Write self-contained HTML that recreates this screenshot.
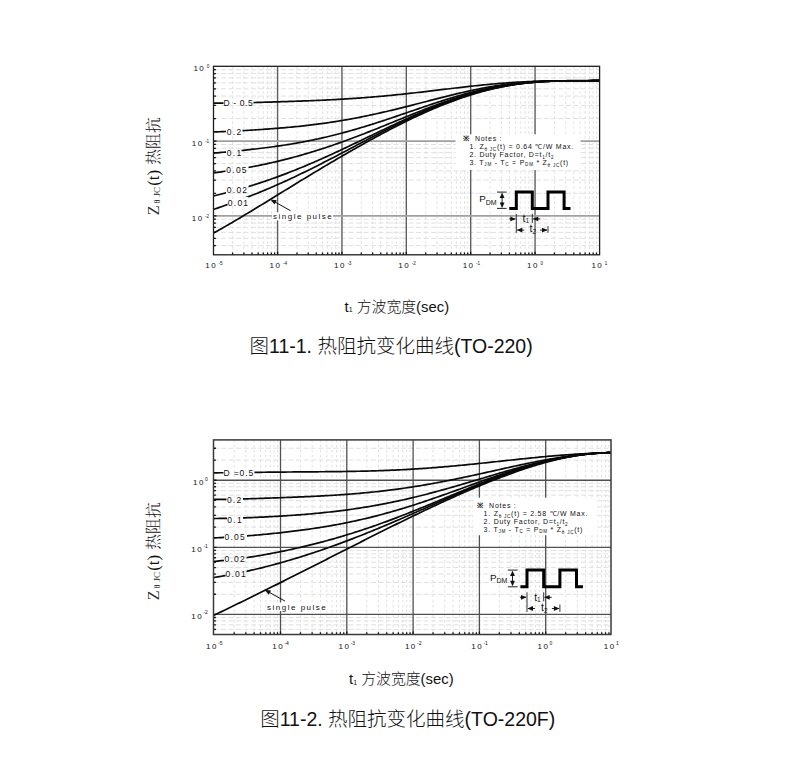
<!DOCTYPE html><html><head><meta charset="utf-8"><style>html,body{margin:0;padding:0;background:#fff;}svg{display:block;}</style></head><body>
<svg width="812" height="779" viewBox="0 0 812 779">
<rect width="812" height="779" fill="#fff"/>
<g stroke="#e0e0e0" stroke-width="1" stroke-dasharray="2.5 2.5" fill="none"><line x1="232.58" y1="66.3" x2="232.58" y2="254.8"/><line x1="243.91" y1="66.3" x2="243.91" y2="254.8"/><line x1="251.95" y1="66.3" x2="251.95" y2="254.8"/><line x1="258.19" y1="66.3" x2="258.19" y2="254.8"/><line x1="263.29" y1="66.3" x2="263.29" y2="254.8"/><line x1="267.6" y1="66.3" x2="267.6" y2="254.8"/><line x1="271.33" y1="66.3" x2="271.33" y2="254.8"/><line x1="274.62" y1="66.3" x2="274.62" y2="254.8"/><line x1="296.95" y1="66.3" x2="296.95" y2="254.8"/><line x1="308.28" y1="66.3" x2="308.28" y2="254.8"/><line x1="316.32" y1="66.3" x2="316.32" y2="254.8"/><line x1="322.56" y1="66.3" x2="322.56" y2="254.8"/><line x1="327.66" y1="66.3" x2="327.66" y2="254.8"/><line x1="331.97" y1="66.3" x2="331.97" y2="254.8"/><line x1="335.7" y1="66.3" x2="335.7" y2="254.8"/><line x1="338.99" y1="66.3" x2="338.99" y2="254.8"/><line x1="361.32" y1="66.3" x2="361.32" y2="254.8"/><line x1="372.65" y1="66.3" x2="372.65" y2="254.8"/><line x1="380.69" y1="66.3" x2="380.69" y2="254.8"/><line x1="386.93" y1="66.3" x2="386.93" y2="254.8"/><line x1="392.03" y1="66.3" x2="392.03" y2="254.8"/><line x1="396.34" y1="66.3" x2="396.34" y2="254.8"/><line x1="400.07" y1="66.3" x2="400.07" y2="254.8"/><line x1="403.36" y1="66.3" x2="403.36" y2="254.8"/><line x1="425.69" y1="66.3" x2="425.69" y2="254.8"/><line x1="437.02" y1="66.3" x2="437.02" y2="254.8"/><line x1="445.06" y1="66.3" x2="445.06" y2="254.8"/><line x1="451.3" y1="66.3" x2="451.3" y2="254.8"/><line x1="456.4" y1="66.3" x2="456.4" y2="254.8"/><line x1="460.71" y1="66.3" x2="460.71" y2="254.8"/><line x1="464.44" y1="66.3" x2="464.44" y2="254.8"/><line x1="467.73" y1="66.3" x2="467.73" y2="254.8"/><line x1="490.06" y1="66.3" x2="490.06" y2="254.8"/><line x1="501.39" y1="66.3" x2="501.39" y2="254.8"/><line x1="509.43" y1="66.3" x2="509.43" y2="254.8"/><line x1="515.67" y1="66.3" x2="515.67" y2="254.8"/><line x1="520.77" y1="66.3" x2="520.77" y2="254.8"/><line x1="525.08" y1="66.3" x2="525.08" y2="254.8"/><line x1="528.81" y1="66.3" x2="528.81" y2="254.8"/><line x1="532.1" y1="66.3" x2="532.1" y2="254.8"/><line x1="554.43" y1="66.3" x2="554.43" y2="254.8"/><line x1="565.76" y1="66.3" x2="565.76" y2="254.8"/><line x1="573.8" y1="66.3" x2="573.8" y2="254.8"/><line x1="580.04" y1="66.3" x2="580.04" y2="254.8"/><line x1="585.14" y1="66.3" x2="585.14" y2="254.8"/><line x1="589.45" y1="66.3" x2="589.45" y2="254.8"/><line x1="593.18" y1="66.3" x2="593.18" y2="254.8"/><line x1="596.47" y1="66.3" x2="596.47" y2="254.8"/></g>
<g stroke="#e0e0e0" stroke-width="1" stroke-dasharray="5 2.5" fill="none"><line x1="213.5" y1="245.55" x2="599.6" y2="245.55"/><line x1="213.5" y1="238.3" x2="599.6" y2="238.3"/><line x1="213.5" y1="232.38" x2="599.6" y2="232.38"/><line x1="213.5" y1="227.38" x2="599.6" y2="227.38"/><line x1="213.5" y1="223.04" x2="599.6" y2="223.04"/><line x1="213.5" y1="219.22" x2="599.6" y2="219.22"/><line x1="213.5" y1="193.3" x2="599.6" y2="193.3"/><line x1="213.5" y1="180.14" x2="599.6" y2="180.14"/><line x1="213.5" y1="170.8" x2="599.6" y2="170.8"/><line x1="213.5" y1="163.55" x2="599.6" y2="163.55"/><line x1="213.5" y1="157.63" x2="599.6" y2="157.63"/><line x1="213.5" y1="152.63" x2="599.6" y2="152.63"/><line x1="213.5" y1="148.29" x2="599.6" y2="148.29"/><line x1="213.5" y1="144.47" x2="599.6" y2="144.47"/><line x1="213.5" y1="118.55" x2="599.6" y2="118.55"/><line x1="213.5" y1="105.39" x2="599.6" y2="105.39"/><line x1="213.5" y1="96.05" x2="599.6" y2="96.05"/><line x1="213.5" y1="88.8" x2="599.6" y2="88.8"/><line x1="213.5" y1="82.88" x2="599.6" y2="82.88"/><line x1="213.5" y1="77.88" x2="599.6" y2="77.88"/><line x1="213.5" y1="73.54" x2="599.6" y2="73.54"/><line x1="213.5" y1="69.72" x2="599.6" y2="69.72"/></g>
<g stroke="#5e5e5e" stroke-width="1.4"><line x1="277.57" y1="66.3" x2="277.57" y2="254.8"/><line x1="341.94" y1="66.3" x2="341.94" y2="254.8"/><line x1="406.31" y1="66.3" x2="406.31" y2="254.8"/><line x1="470.68" y1="66.3" x2="470.68" y2="254.8"/><line x1="535.05" y1="66.3" x2="535.05" y2="254.8"/></g>
<g stroke="#a0a0a0" stroke-width="1.8"><line x1="213.5" y1="215.8" x2="599.6" y2="215.8"/><line x1="213.5" y1="141.05" x2="599.6" y2="141.05"/></g>
<rect x="455.5" y="134.3" width="125" height="35.7" fill="#fff"/>
<rect x="272" y="212.3" width="61" height="8" fill="#fff"/>
<path d="M232.58 254.8v-2.2M243.91 254.8v-2.2M251.95 254.8v-2.2M258.19 254.8v-2.2M263.29 254.8v-2.2M267.6 254.8v-2.2M271.33 254.8v-2.2M274.62 254.8v-2.2M277.57 254.8v-3M296.95 254.8v-2.2M308.28 254.8v-2.2M316.32 254.8v-2.2M322.56 254.8v-2.2M327.66 254.8v-2.2M331.97 254.8v-2.2M335.7 254.8v-2.2M338.99 254.8v-2.2M341.94 254.8v-3M361.32 254.8v-2.2M372.65 254.8v-2.2M380.69 254.8v-2.2M386.93 254.8v-2.2M392.03 254.8v-2.2M396.34 254.8v-2.2M400.07 254.8v-2.2M403.36 254.8v-2.2M406.31 254.8v-3M425.69 254.8v-2.2M437.02 254.8v-2.2M445.06 254.8v-2.2M451.3 254.8v-2.2M456.4 254.8v-2.2M460.71 254.8v-2.2M464.44 254.8v-2.2M467.73 254.8v-2.2M470.68 254.8v-3M490.06 254.8v-2.2M501.39 254.8v-2.2M509.43 254.8v-2.2M515.67 254.8v-2.2M520.77 254.8v-2.2M525.08 254.8v-2.2M528.81 254.8v-2.2M532.1 254.8v-2.2M535.05 254.8v-3M554.43 254.8v-2.2M565.76 254.8v-2.2M573.8 254.8v-2.2M580.04 254.8v-2.2M585.14 254.8v-2.2M589.45 254.8v-2.2M593.18 254.8v-2.2M596.47 254.8v-2.2M213.5 245.55h2.4M213.5 238.3h2.4M213.5 232.38h2.4M213.5 227.38h2.4M213.5 223.04h2.4M213.5 219.22h2.4M213.5 215.8h3M213.5 193.3h2.4M213.5 180.14h2.4M213.5 170.8h2.4M213.5 163.55h2.4M213.5 157.63h2.4M213.5 152.63h2.4M213.5 148.29h2.4M213.5 144.47h2.4M213.5 141.05h3M213.5 118.55h2.4M213.5 105.39h2.4M213.5 96.05h2.4M213.5 88.8h2.4M213.5 82.88h2.4M213.5 77.88h2.4M213.5 73.54h2.4M213.5 69.72h2.4" stroke="#111" stroke-width="1.3" fill="none"/>
<mask id="m1" maskUnits="userSpaceOnUse" x="0" y="0" width="812" height="779"><rect x="0" y="0" width="812" height="779" fill="#fff"/>
<rect x="223.5" y="98" width="30" height="10" fill="#000"/>
<rect x="226" y="126" width="16.5" height="11" fill="#000"/>
<rect x="226" y="146" width="15.5" height="11" fill="#000"/>
<rect x="225.5" y="164" width="23" height="12" fill="#000"/>
<rect x="226" y="184" width="22.5" height="11" fill="#000"/>
<rect x="227.5" y="197" width="21" height="10.5" fill="#000"/>
</mask>
<clipPath id="m1c"><rect x="213.5" y="66.3" width="386.1" height="188.5"/></clipPath>
<g clip-path="url(#m1c)"><g mask="url(#m1)" stroke="#0a0a0a" stroke-width="1.7" fill="none" stroke-linejoin="round">
<path d="M213.4 103.15 L215.4 103.16 L217.4 103.16 L219.4 103.15 L221.4 103.14 L223.4 103.13 L225.4 103.11 L227.4 103.09 L229.4 103.06 L231.4 103.03 L233.4 103 L235.4 102.96 L237.4 102.92 L239.4 102.88 L241.4 102.84 L243.4 102.79 L245.4 102.75 L247.4 102.7 L249.4 102.65 L251.4 102.6 L253.4 102.54 L255.4 102.49 L257.4 102.44 L259.4 102.38 L261.4 102.32 L263.4 102.27 L265.4 102.21 L267.4 102.15 L269.4 102.09 L271.4 102.03 L273.4 101.97 L275.4 101.91 L277.4 101.85 L279.4 101.79 L281.4 101.72 L283.4 101.66 L285.4 101.6 L287.4 101.53 L289.4 101.46 L291.4 101.4 L293.4 101.33 L295.4 101.26 L297.4 101.19 L299.4 101.12 L301.4 101.04 L303.4 100.97 L305.4 100.89 L307.4 100.82 L309.4 100.74 L311.4 100.66 L313.4 100.58 L315.4 100.49 L317.4 100.41 L319.4 100.32 L321.4 100.23 L323.4 100.14 L325.4 100.04 L327.4 99.95 L329.4 99.85 L331.4 99.75 L333.4 99.64 L335.4 99.53 L337.4 99.43 L339.4 99.31 L341.4 99.2 L343.4 99.08 L345.4 98.96 L347.4 98.84 L349.4 98.71 L351.4 98.58 L353.4 98.45 L355.4 98.31 L357.4 98.17 L359.4 98.03 L361.4 97.88 L363.4 97.73 L365.4 97.58 L367.4 97.42 L369.4 97.26 L371.4 97.1 L373.4 96.94 L375.4 96.77 L377.4 96.59 L379.4 96.42 L381.4 96.24 L383.4 96.06 L385.4 95.87 L387.4 95.68 L389.4 95.49 L391.4 95.3 L393.4 95.1 L395.4 94.9 L397.4 94.69 L399.4 94.49 L401.4 94.28 L403.4 94.07 L405.4 93.85 L407.4 93.63 L409.4 93.42 L411.4 93.19 L413.4 92.97 L415.4 92.74 L417.4 92.52 L419.4 92.29 L421.4 92.06 L423.4 91.82 L425.4 91.59 L427.4 91.35 L429.4 91.12 L431.4 90.88 L433.4 90.64 L435.4 90.4 L437.4 90.17 L439.4 89.93 L441.4 89.69 L443.4 89.45 L445.4 89.21 L447.4 88.97 L449.4 88.73 L451.4 88.49 L453.4 88.26 L455.4 88.02 L457.4 87.79 L459.4 87.55 L461.4 87.32 L463.4 87.09 L465.4 86.86 L467.4 86.64 L469.4 86.42 L471.4 86.2 L473.4 85.98 L475.4 85.76 L477.4 85.55 L479.4 85.34 L481.4 85.14 L483.4 84.94 L485.4 84.74 L487.4 84.55 L489.4 84.36 L491.4 84.17 L493.4 83.99 L495.4 83.81 L497.4 83.64 L499.4 83.47 L501.4 83.31 L503.4 83.15 L505.4 83 L507.4 82.86 L509.4 82.71 L511.4 82.58 L513.4 82.45 L515.4 82.32 L517.4 82.2 L519.4 82.09 L521.4 81.98 L523.4 81.88 L525.4 81.78 L527.4 81.69 L529.4 81.6 L531.4 81.52 L533.4 81.45 L535.4 81.38 L537.4 81.31 L539.4 81.25 L541.4 81.2 L543.4 81.15 L545.4 81.11 L547.4 81.07 L549.4 81.03 L551.4 81 L553.4 80.97 L555.4 80.95 L557.4 80.93 L559.4 80.91 L561.4 80.9 L563.4 80.88 L565.4 80.87 L567.4 80.87 L569.4 80.86 L571.4 80.85 L573.4 80.84 L575.4 80.84 L577.4 80.83 L579.4 80.82 L581.4 80.81 L583.4 80.79 L585.4 80.78 L587.4 80.75 L589.4 80.73 L591.4 80.69 L593.4 80.66 L595.4 80.61 L597.4 80.55 L599.4 80.49 L599.5 80.49"/>
<path d="M213.4 131.99 L215.4 131.92 L217.4 131.84 L219.4 131.76 L221.4 131.68 L223.4 131.6 L225.4 131.51 L227.4 131.42 L229.4 131.32 L231.4 131.23 L233.4 131.13 L235.4 131.03 L237.4 130.92 L239.4 130.82 L241.4 130.71 L243.4 130.6 L245.4 130.48 L247.4 130.37 L249.4 130.25 L251.4 130.13 L253.4 130 L255.4 129.88 L257.4 129.75 L259.4 129.62 L261.4 129.48 L263.4 129.35 L265.4 129.21 L267.4 129.07 L269.4 128.92 L271.4 128.77 L273.4 128.62 L275.4 128.46 L277.4 128.3 L279.4 128.14 L281.4 127.97 L283.4 127.8 L285.4 127.63 L287.4 127.45 L289.4 127.26 L291.4 127.08 L293.4 126.88 L295.4 126.69 L297.4 126.49 L299.4 126.28 L301.4 126.07 L303.4 125.85 L305.4 125.63 L307.4 125.4 L309.4 125.17 L311.4 124.93 L313.4 124.68 L315.4 124.43 L317.4 124.18 L319.4 123.91 L321.4 123.65 L323.4 123.37 L325.4 123.09 L327.4 122.8 L329.4 122.51 L331.4 122.21 L333.4 121.9 L335.4 121.59 L337.4 121.27 L339.4 120.95 L341.4 120.61 L343.4 120.28 L345.4 119.93 L347.4 119.58 L349.4 119.22 L351.4 118.86 L353.4 118.48 L355.4 118.11 L357.4 117.72 L359.4 117.33 L361.4 116.94 L363.4 116.53 L365.4 116.12 L367.4 115.71 L369.4 115.29 L371.4 114.86 L373.4 114.43 L375.4 113.99 L377.4 113.54 L379.4 113.1 L381.4 112.64 L383.4 112.18 L385.4 111.72 L387.4 111.25 L389.4 110.77 L391.4 110.3 L393.4 109.81 L395.4 109.33 L397.4 108.84 L399.4 108.34 L401.4 107.85 L403.4 107.35 L405.4 106.84 L407.4 106.34 L409.4 105.83 L411.4 105.32 L413.4 104.81 L415.4 104.3 L417.4 103.78 L419.4 103.26 L421.4 102.75 L423.4 102.23 L425.4 101.71 L427.4 101.2 L429.4 100.68 L431.4 100.16 L433.4 99.65 L435.4 99.14 L437.4 98.62 L439.4 98.11 L441.4 97.61 L443.4 97.1 L445.4 96.6 L447.4 96.1 L449.4 95.61 L451.4 95.11 L453.4 94.63 L455.4 94.15 L457.4 93.67 L459.4 93.2 L461.4 92.73 L463.4 92.27 L465.4 91.81 L467.4 91.36 L469.4 90.92 L471.4 90.49 L473.4 90.06 L475.4 89.64 L477.4 89.23 L479.4 88.82 L481.4 88.43 L483.4 88.04 L485.4 87.66 L487.4 87.3 L489.4 86.94 L491.4 86.59 L493.4 86.25 L495.4 85.92 L497.4 85.6 L499.4 85.29 L501.4 84.99 L503.4 84.7 L505.4 84.42 L507.4 84.16 L509.4 83.9 L511.4 83.66 L513.4 83.42 L515.4 83.2 L517.4 82.99 L519.4 82.79 L521.4 82.6 L523.4 82.42 L525.4 82.25 L527.4 82.1 L529.4 81.95 L531.4 81.82 L533.4 81.7 L535.4 81.58 L537.4 81.48 L539.4 81.39 L541.4 81.3 L543.4 81.23 L545.4 81.16 L547.4 81.1 L549.4 81.05 L551.4 81.01 L553.4 80.98 L555.4 80.95 L557.4 80.93 L559.4 80.91 L561.4 80.9 L563.4 80.89 L565.4 80.89 L567.4 80.89 L569.4 80.89 L571.4 80.89 L573.4 80.9 L575.4 80.9 L577.4 80.9 L579.4 80.9 L581.4 80.89 L583.4 80.88 L585.4 80.87 L587.4 80.84 L589.4 80.81 L591.4 80.77 L593.4 80.71 L595.4 80.65 L597.4 80.57 L599.4 80.47 L599.5 80.46"/>
<path d="M213.4 153.15 L215.4 152.97 L217.4 152.78 L219.4 152.6 L221.4 152.41 L223.4 152.23 L225.4 152.04 L227.4 151.85 L229.4 151.66 L231.4 151.47 L233.4 151.28 L235.4 151.08 L237.4 150.89 L239.4 150.69 L241.4 150.48 L243.4 150.28 L245.4 150.07 L247.4 149.86 L249.4 149.64 L251.4 149.43 L253.4 149.2 L255.4 148.98 L257.4 148.75 L259.4 148.51 L261.4 148.27 L263.4 148.03 L265.4 147.78 L267.4 147.52 L269.4 147.26 L271.4 147 L273.4 146.72 L275.4 146.45 L277.4 146.16 L279.4 145.87 L281.4 145.58 L283.4 145.27 L285.4 144.97 L287.4 144.65 L289.4 144.33 L291.4 144 L293.4 143.66 L295.4 143.31 L297.4 142.96 L299.4 142.6 L301.4 142.23 L303.4 141.86 L305.4 141.48 L307.4 141.08 L309.4 140.69 L311.4 140.28 L313.4 139.87 L315.4 139.44 L317.4 139.01 L319.4 138.57 L321.4 138.13 L323.4 137.67 L325.4 137.21 L327.4 136.74 L329.4 136.26 L331.4 135.77 L333.4 135.28 L335.4 134.77 L337.4 134.26 L339.4 133.74 L341.4 133.22 L343.4 132.68 L345.4 132.14 L347.4 131.59 L349.4 131.04 L351.4 130.47 L353.4 129.9 L355.4 129.32 L357.4 128.74 L359.4 128.15 L361.4 127.55 L363.4 126.95 L365.4 126.34 L367.4 125.72 L369.4 125.1 L371.4 124.47 L373.4 123.84 L375.4 123.2 L377.4 122.56 L379.4 121.91 L381.4 121.26 L383.4 120.6 L385.4 119.94 L387.4 119.28 L389.4 118.61 L391.4 117.94 L393.4 117.27 L395.4 116.59 L397.4 115.91 L399.4 115.23 L401.4 114.55 L403.4 113.87 L405.4 113.19 L407.4 112.5 L409.4 111.82 L411.4 111.13 L413.4 110.45 L415.4 109.76 L417.4 109.08 L419.4 108.4 L421.4 107.72 L423.4 107.04 L425.4 106.36 L427.4 105.69 L429.4 105.02 L431.4 104.35 L433.4 103.68 L435.4 103.02 L437.4 102.37 L439.4 101.72 L441.4 101.07 L443.4 100.43 L445.4 99.8 L447.4 99.17 L449.4 98.55 L451.4 97.93 L453.4 97.33 L455.4 96.73 L457.4 96.13 L459.4 95.55 L461.4 94.98 L463.4 94.41 L465.4 93.85 L467.4 93.3 L469.4 92.76 L471.4 92.24 L473.4 91.72 L475.4 91.21 L477.4 90.71 L479.4 90.23 L481.4 89.75 L483.4 89.29 L485.4 88.84 L487.4 88.4 L489.4 87.97 L491.4 87.55 L493.4 87.15 L495.4 86.76 L497.4 86.38 L499.4 86.02 L501.4 85.67 L503.4 85.33 L505.4 85.01 L507.4 84.7 L509.4 84.4 L511.4 84.11 L513.4 83.84 L515.4 83.58 L517.4 83.34 L519.4 83.11 L521.4 82.89 L523.4 82.68 L525.4 82.49 L527.4 82.31 L529.4 82.14 L531.4 81.99 L533.4 81.84 L535.4 81.71 L537.4 81.59 L539.4 81.48 L541.4 81.39 L543.4 81.3 L545.4 81.22 L547.4 81.16 L549.4 81.1 L551.4 81.05 L553.4 81.01 L555.4 80.97 L557.4 80.95 L559.4 80.93 L561.4 80.91 L563.4 80.9 L565.4 80.9 L567.4 80.89 L569.4 80.89 L571.4 80.9 L573.4 80.9 L575.4 80.9 L577.4 80.9 L579.4 80.9 L581.4 80.89 L583.4 80.88 L585.4 80.87 L587.4 80.84 L589.4 80.81 L591.4 80.77 L593.4 80.71 L595.4 80.65 L597.4 80.57 L599.4 80.47 L599.5 80.47"/>
<path d="M213.4 172.88 L215.4 172.62 L217.4 172.36 L219.4 172.09 L221.4 171.81 L223.4 171.53 L225.4 171.24 L227.4 170.94 L229.4 170.64 L231.4 170.33 L233.4 170.02 L235.4 169.69 L237.4 169.37 L239.4 169.03 L241.4 168.69 L243.4 168.34 L245.4 167.99 L247.4 167.63 L249.4 167.26 L251.4 166.88 L253.4 166.5 L255.4 166.11 L257.4 165.71 L259.4 165.31 L261.4 164.9 L263.4 164.48 L265.4 164.05 L267.4 163.62 L269.4 163.18 L271.4 162.73 L273.4 162.28 L275.4 161.82 L277.4 161.34 L279.4 160.87 L281.4 160.38 L283.4 159.89 L285.4 159.39 L287.4 158.88 L289.4 158.36 L291.4 157.83 L293.4 157.3 L295.4 156.76 L297.4 156.21 L299.4 155.65 L301.4 155.09 L303.4 154.52 L305.4 153.94 L307.4 153.35 L309.4 152.75 L311.4 152.15 L313.4 151.54 L315.4 150.92 L317.4 150.29 L319.4 149.65 L321.4 149.01 L323.4 148.36 L325.4 147.7 L327.4 147.04 L329.4 146.37 L331.4 145.69 L333.4 145 L335.4 144.31 L337.4 143.61 L339.4 142.9 L341.4 142.19 L343.4 141.47 L345.4 140.74 L347.4 140.01 L349.4 139.27 L351.4 138.53 L353.4 137.78 L355.4 137.03 L357.4 136.27 L359.4 135.5 L361.4 134.73 L363.4 133.96 L365.4 133.18 L367.4 132.4 L369.4 131.61 L371.4 130.82 L373.4 130.03 L375.4 129.23 L377.4 128.43 L379.4 127.63 L381.4 126.82 L383.4 126.01 L385.4 125.21 L387.4 124.39 L389.4 123.58 L391.4 122.77 L393.4 121.96 L395.4 121.14 L397.4 120.33 L399.4 119.51 L401.4 118.7 L403.4 117.89 L405.4 117.08 L407.4 116.27 L409.4 115.46 L411.4 114.65 L413.4 113.85 L415.4 113.05 L417.4 112.25 L419.4 111.46 L421.4 110.67 L423.4 109.89 L425.4 109.11 L427.4 108.33 L429.4 107.56 L431.4 106.8 L433.4 106.04 L435.4 105.29 L437.4 104.54 L439.4 103.8 L441.4 103.07 L443.4 102.35 L445.4 101.63 L447.4 100.93 L449.4 100.23 L451.4 99.54 L453.4 98.86 L455.4 98.19 L457.4 97.53 L459.4 96.88 L461.4 96.24 L463.4 95.61 L465.4 95 L467.4 94.39 L469.4 93.8 L471.4 93.22 L473.4 92.65 L475.4 92.09 L477.4 91.54 L479.4 91.01 L481.4 90.5 L483.4 89.99 L485.4 89.5 L487.4 89.02 L489.4 88.56 L491.4 88.11 L493.4 87.68 L495.4 87.25 L497.4 86.85 L499.4 86.46 L501.4 86.08 L503.4 85.72 L505.4 85.37 L507.4 85.04 L509.4 84.72 L511.4 84.41 L513.4 84.12 L515.4 83.85 L517.4 83.59 L519.4 83.34 L521.4 83.11 L523.4 82.89 L525.4 82.69 L527.4 82.5 L529.4 82.32 L531.4 82.16 L533.4 82.01 L535.4 81.87 L537.4 81.75 L539.4 81.63 L541.4 81.53 L543.4 81.44 L545.4 81.36 L547.4 81.29 L549.4 81.23 L551.4 81.17 L553.4 81.13 L555.4 81.09 L557.4 81.07 L559.4 81.04 L561.4 81.03 L563.4 81.01 L565.4 81 L567.4 81 L569.4 81 L571.4 80.99 L573.4 80.99 L575.4 80.99 L577.4 80.98 L579.4 80.97 L581.4 80.96 L583.4 80.94 L585.4 80.92 L587.4 80.89 L589.4 80.84 L591.4 80.79 L593.4 80.72 L595.4 80.64 L597.4 80.55 L599.4 80.43 L599.5 80.43"/>
<path d="M213.4 195.99 L215.4 195.51 L217.4 195.02 L219.4 194.53 L221.4 194.03 L223.4 193.52 L225.4 193 L227.4 192.48 L229.4 191.95 L231.4 191.42 L233.4 190.87 L235.4 190.32 L237.4 189.76 L239.4 189.19 L241.4 188.62 L243.4 188.03 L245.4 187.44 L247.4 186.84 L249.4 186.24 L251.4 185.62 L253.4 185 L255.4 184.36 L257.4 183.72 L259.4 183.07 L261.4 182.42 L263.4 181.75 L265.4 181.08 L267.4 180.39 L269.4 179.7 L271.4 179 L273.4 178.29 L275.4 177.58 L277.4 176.85 L279.4 176.12 L281.4 175.37 L283.4 174.62 L285.4 173.86 L287.4 173.1 L289.4 172.32 L291.4 171.54 L293.4 170.75 L295.4 169.95 L297.4 169.14 L299.4 168.33 L301.4 167.51 L303.4 166.68 L305.4 165.85 L307.4 165 L309.4 164.15 L311.4 163.3 L313.4 162.43 L315.4 161.56 L317.4 160.69 L319.4 159.81 L321.4 158.92 L323.4 158.03 L325.4 157.13 L327.4 156.22 L329.4 155.31 L331.4 154.4 L333.4 153.48 L335.4 152.55 L337.4 151.63 L339.4 150.69 L341.4 149.76 L343.4 148.82 L345.4 147.87 L347.4 146.93 L349.4 145.98 L351.4 145.02 L353.4 144.07 L355.4 143.11 L357.4 142.15 L359.4 141.19 L361.4 140.23 L363.4 139.27 L365.4 138.31 L367.4 137.34 L369.4 136.38 L371.4 135.41 L373.4 134.45 L375.4 133.49 L377.4 132.53 L379.4 131.56 L381.4 130.6 L383.4 129.65 L385.4 128.69 L387.4 127.74 L389.4 126.79 L391.4 125.84 L393.4 124.9 L395.4 123.95 L397.4 123.02 L399.4 122.09 L401.4 121.16 L403.4 120.23 L405.4 119.32 L407.4 118.4 L409.4 117.5 L411.4 116.59 L413.4 115.7 L415.4 114.81 L417.4 113.93 L419.4 113.06 L421.4 112.19 L423.4 111.33 L425.4 110.48 L427.4 109.64 L429.4 108.8 L431.4 107.98 L433.4 107.16 L435.4 106.36 L437.4 105.56 L439.4 104.77 L441.4 104 L443.4 103.23 L445.4 102.48 L447.4 101.73 L449.4 101 L451.4 100.28 L453.4 99.57 L455.4 98.87 L457.4 98.18 L459.4 97.51 L461.4 96.85 L463.4 96.2 L465.4 95.56 L467.4 94.94 L469.4 94.33 L471.4 93.74 L473.4 93.15 L475.4 92.58 L477.4 92.03 L479.4 91.49 L481.4 90.96 L483.4 90.45 L485.4 89.95 L487.4 89.46 L489.4 88.99 L491.4 88.53 L493.4 88.09 L495.4 87.66 L497.4 87.25 L499.4 86.85 L501.4 86.47 L503.4 86.1 L505.4 85.74 L507.4 85.4 L509.4 85.07 L511.4 84.76 L513.4 84.46 L515.4 84.18 L517.4 83.9 L519.4 83.65 L521.4 83.4 L523.4 83.17 L525.4 82.96 L527.4 82.75 L529.4 82.56 L531.4 82.38 L533.4 82.21 L535.4 82.06 L537.4 81.91 L539.4 81.78 L541.4 81.66 L543.4 81.55 L545.4 81.45 L547.4 81.36 L549.4 81.28 L551.4 81.2 L553.4 81.14 L555.4 81.08 L557.4 81.03 L559.4 80.99 L561.4 80.95 L563.4 80.92 L565.4 80.9 L567.4 80.88 L569.4 80.86 L571.4 80.84 L573.4 80.83 L575.4 80.82 L577.4 80.81 L579.4 80.8 L581.4 80.79 L583.4 80.78 L585.4 80.76 L587.4 80.74 L589.4 80.72 L591.4 80.69 L593.4 80.65 L595.4 80.61 L597.4 80.56 L599.4 80.49 L599.5 80.49"/>
<path d="M213.4 209.51 L215.4 208.81 L217.4 208.11 L219.4 207.41 L221.4 206.71 L223.4 206 L225.4 205.29 L227.4 204.58 L229.4 203.86 L231.4 203.13 L233.4 202.41 L235.4 201.67 L237.4 200.93 L239.4 200.18 L241.4 199.43 L243.4 198.67 L245.4 197.91 L247.4 197.14 L249.4 196.36 L251.4 195.57 L253.4 194.78 L255.4 193.98 L257.4 193.18 L259.4 192.36 L261.4 191.54 L263.4 190.71 L265.4 189.88 L267.4 189.04 L269.4 188.19 L271.4 187.33 L273.4 186.46 L275.4 185.59 L277.4 184.71 L279.4 183.82 L281.4 182.92 L283.4 182.02 L285.4 181.11 L287.4 180.2 L289.4 179.27 L291.4 178.34 L293.4 177.4 L295.4 176.46 L297.4 175.51 L299.4 174.55 L301.4 173.59 L303.4 172.62 L305.4 171.64 L307.4 170.66 L309.4 169.67 L311.4 168.68 L313.4 167.68 L315.4 166.68 L317.4 165.67 L319.4 164.66 L321.4 163.64 L323.4 162.62 L325.4 161.6 L327.4 160.57 L329.4 159.54 L331.4 158.5 L333.4 157.46 L335.4 156.42 L337.4 155.38 L339.4 154.33 L341.4 153.29 L343.4 152.24 L345.4 151.19 L347.4 150.13 L349.4 149.08 L351.4 148.03 L353.4 146.97 L355.4 145.92 L357.4 144.86 L359.4 143.81 L361.4 142.76 L363.4 141.71 L365.4 140.66 L367.4 139.61 L369.4 138.56 L371.4 137.52 L373.4 136.48 L375.4 135.44 L377.4 134.4 L379.4 133.37 L381.4 132.34 L383.4 131.32 L385.4 130.3 L387.4 129.28 L389.4 128.27 L391.4 127.27 L393.4 126.27 L395.4 125.27 L397.4 124.29 L399.4 123.3 L401.4 122.33 L403.4 121.36 L405.4 120.4 L407.4 119.44 L409.4 118.5 L411.4 117.56 L413.4 116.63 L415.4 115.71 L417.4 114.8 L419.4 113.89 L421.4 113 L423.4 112.11 L425.4 111.24 L427.4 110.37 L429.4 109.51 L431.4 108.67 L433.4 107.83 L435.4 107.01 L437.4 106.2 L439.4 105.4 L441.4 104.6 L443.4 103.83 L445.4 103.06 L447.4 102.3 L449.4 101.56 L451.4 100.83 L453.4 100.11 L455.4 99.4 L457.4 98.71 L459.4 98.03 L461.4 97.36 L463.4 96.71 L465.4 96.07 L467.4 95.44 L469.4 94.83 L471.4 94.22 L473.4 93.64 L475.4 93.06 L477.4 92.5 L479.4 91.96 L481.4 91.43 L483.4 90.91 L485.4 90.4 L487.4 89.91 L489.4 89.44 L491.4 88.97 L493.4 88.52 L495.4 88.09 L497.4 87.67 L499.4 87.26 L501.4 86.87 L503.4 86.49 L505.4 86.12 L507.4 85.77 L509.4 85.43 L511.4 85.11 L513.4 84.79 L515.4 84.49 L517.4 84.21 L519.4 83.94 L521.4 83.68 L523.4 83.43 L525.4 83.19 L527.4 82.97 L529.4 82.76 L531.4 82.56 L533.4 82.38 L535.4 82.2 L537.4 82.04 L539.4 81.88 L541.4 81.74 L543.4 81.61 L545.4 81.49 L547.4 81.37 L549.4 81.27 L551.4 81.18 L553.4 81.09 L555.4 81.02 L557.4 80.95 L559.4 80.89 L561.4 80.83 L563.4 80.79 L565.4 80.75 L567.4 80.71 L569.4 80.68 L571.4 80.66 L573.4 80.64 L575.4 80.63 L577.4 80.62 L579.4 80.61 L581.4 80.61 L583.4 80.6 L585.4 80.6 L587.4 80.6 L589.4 80.6 L591.4 80.6 L593.4 80.6 L595.4 80.6 L597.4 80.6 L599.4 80.59 L599.5 80.59"/>
<path d="M213.4 233.1 L215.4 232 L217.4 230.9 L219.4 229.78 L221.4 228.65 L223.4 227.52 L225.4 226.38 L227.4 225.23 L229.4 224.07 L231.4 222.9 L233.4 221.73 L235.4 220.55 L237.4 219.37 L239.4 218.18 L241.4 216.99 L243.4 215.79 L245.4 214.59 L247.4 213.39 L249.4 212.18 L251.4 210.97 L253.4 209.75 L255.4 208.53 L257.4 207.31 L259.4 206.09 L261.4 204.87 L263.4 203.65 L265.4 202.42 L267.4 201.19 L269.4 199.96 L271.4 198.74 L273.4 197.51 L275.4 196.28 L277.4 195.05 L279.4 193.82 L281.4 192.59 L283.4 191.36 L285.4 190.13 L287.4 188.91 L289.4 187.68 L291.4 186.45 L293.4 185.23 L295.4 184.01 L297.4 182.79 L299.4 181.57 L301.4 180.35 L303.4 179.13 L305.4 177.91 L307.4 176.7 L309.4 175.49 L311.4 174.28 L313.4 173.07 L315.4 171.87 L317.4 170.67 L319.4 169.47 L321.4 168.27 L323.4 167.07 L325.4 165.88 L327.4 164.69 L329.4 163.51 L331.4 162.33 L333.4 161.15 L335.4 159.97 L337.4 158.8 L339.4 157.63 L341.4 156.46 L343.4 155.3 L345.4 154.14 L347.4 152.99 L349.4 151.83 L351.4 150.69 L353.4 149.55 L355.4 148.41 L357.4 147.27 L359.4 146.14 L361.4 145.02 L363.4 143.9 L365.4 142.78 L367.4 141.67 L369.4 140.57 L371.4 139.47 L373.4 138.38 L375.4 137.29 L377.4 136.2 L379.4 135.13 L381.4 134.06 L383.4 132.99 L385.4 131.93 L387.4 130.88 L389.4 129.83 L391.4 128.79 L393.4 127.76 L395.4 126.74 L397.4 125.72 L399.4 124.71 L401.4 123.7 L403.4 122.71 L405.4 121.72 L407.4 120.74 L409.4 119.77 L411.4 118.81 L413.4 117.85 L415.4 116.91 L417.4 115.97 L419.4 115.04 L421.4 114.12 L423.4 113.21 L425.4 112.31 L427.4 111.43 L429.4 110.55 L431.4 109.68 L433.4 108.82 L435.4 107.97 L437.4 107.13 L439.4 106.3 L441.4 105.49 L443.4 104.69 L445.4 103.89 L447.4 103.11 L449.4 102.34 L451.4 101.59 L453.4 100.84 L455.4 100.11 L457.4 99.39 L459.4 98.68 L461.4 97.99 L463.4 97.31 L465.4 96.64 L467.4 95.98 L469.4 95.34 L471.4 94.71 L473.4 94.1 L475.4 93.5 L477.4 92.91 L479.4 92.34 L481.4 91.78 L483.4 91.24 L485.4 90.71 L487.4 90.19 L489.4 89.69 L491.4 89.21 L493.4 88.74 L495.4 88.28 L497.4 87.84 L499.4 87.41 L501.4 87 L503.4 86.6 L505.4 86.22 L507.4 85.85 L509.4 85.5 L511.4 85.16 L513.4 84.84 L515.4 84.53 L517.4 84.23 L519.4 83.95 L521.4 83.69 L523.4 83.43 L525.4 83.19 L527.4 82.97 L529.4 82.76 L531.4 82.56 L533.4 82.37 L535.4 82.2 L537.4 82.04 L539.4 81.89 L541.4 81.75 L543.4 81.63 L545.4 81.51 L547.4 81.41 L549.4 81.32 L551.4 81.24 L553.4 81.16 L555.4 81.1 L557.4 81.04 L559.4 80.99 L561.4 80.95 L563.4 80.91 L565.4 80.88 L567.4 80.86 L569.4 80.84 L571.4 80.83 L573.4 80.81 L575.4 80.8 L577.4 80.79 L579.4 80.78 L581.4 80.78 L583.4 80.77 L585.4 80.75 L587.4 80.74 L589.4 80.72 L591.4 80.69 L593.4 80.66 L595.4 80.62 L597.4 80.57 L599.4 80.51 L599.5 80.51"/>
</g></g>
<rect x="213.5" y="66.3" width="386.1" height="188.5" fill="none" stroke="#1e1e1e" stroke-width="1.3"/>
<text x="223.6" y="106" font-size="8.5" letter-spacing="0.6" text-anchor="start" fill="#111" font-family="'Liberation Sans', Arial, sans-serif">D - 0.5</text>
<text x="226.8" y="135" font-size="8.5" letter-spacing="1.25" text-anchor="start" fill="#111" font-family="'Liberation Sans', Arial, sans-serif">0.2</text>
<text x="226.8" y="156" font-size="8.5" letter-spacing="1.25" text-anchor="start" fill="#111" font-family="'Liberation Sans', Arial, sans-serif">0.1</text>
<text x="226.3" y="172.9" font-size="8.5" letter-spacing="1.25" text-anchor="start" fill="#111" font-family="'Liberation Sans', Arial, sans-serif">0.05</text>
<text x="226.8" y="193.1" font-size="8.5" letter-spacing="1.25" text-anchor="start" fill="#111" font-family="'Liberation Sans', Arial, sans-serif">0.02</text>
<text x="227.8" y="205.8" font-size="8.5" letter-spacing="1.25" text-anchor="start" fill="#111" font-family="'Liberation Sans', Arial, sans-serif">0.01</text>
<text x="273" y="218.9" font-size="8" letter-spacing="1.5" text-anchor="start" fill="#111" font-family="'Liberation Sans', Arial, sans-serif">single pulse</text>
<line x1="290.5" y1="210.7" x2="273" y2="200.9" stroke="#111" stroke-width="1"/>
<path d="M270.4 199.5L276.81 200.32L274.47 204.52Z" fill="#111"/>
<g font-family="'Liberation Sans', Arial, sans-serif" font-size="7.0" letter-spacing="0.75" fill="#111">
<text x="462.8" y="140.6" font-size="7.5" font-weight="bold" letter-spacing="0">※</text>
<text x="474.9" y="141.2">Notes :</text>
<text x="469.4" y="148.8">1. Z<tspan font-size="4.6" dy="2">θ JC</tspan><tspan dy="-2">(t) = 0.64 ℃/W Max.</tspan></text>
<text x="469.4" y="156.8">2. Duty Factor, D=t<tspan font-size="4.6" dy="2">1</tspan><tspan dy="-2">/t</tspan><tspan font-size="4.6" dy="2">2</tspan></text>
<text x="469.4" y="164.8">3. T<tspan font-size="4.6" dy="1.5">JM</tspan><tspan dy="-1.5"> - T</tspan><tspan font-size="4.6" dy="1.5">C</tspan><tspan dy="-1.5"> = P</tspan><tspan font-size="4.6" dy="1.5">DM</tspan><tspan dy="-1.5"> * Z</tspan><tspan font-size="4.6" dy="2">θ JC</tspan><tspan dy="-2">(t)</tspan></text>
</g>
<path d="M509.3 208.4H516.3V192.1H532.3V208.4H548V192.1H564.1V208.4H570.5" stroke="#000" stroke-width="3" fill="none" stroke-linejoin="miter"/>
<path d="M497 192.1H506.6M497 208.4H506.6M502.1 195.1V205.4" stroke="#222" stroke-width="1" fill="none"/>
<path d="M502.1 192.6L504.5 198.1L499.7 198.1Z" fill="#111"/>
<path d="M502.1 207.9L499.7 202.4L504.5 202.4Z" fill="#111"/>
<text x="479.3" y="202.4" font-size="9.8" font-family="'Liberation Sans', Arial, sans-serif" fill="#111">P<tspan font-size="7" dy="2.4" letter-spacing="-0.2">DM</tspan></text>
<path d="M516.3 213.9V232.8M532.3 213.9V222.9M548 226.1V232.8" stroke="#333" stroke-width="1" fill="none"/>
<path d="M509.3 218.9H515.3M533.3 218.9H540.3" stroke="#222" stroke-width="1"/>
<path d="M515.8 218.9L510.3 221.3L510.3 216.5Z" fill="#111"/>
<path d="M532.8 218.9L538.3 216.5L538.3 221.3Z" fill="#111"/>
<text x="522.6" y="221.5" font-size="10.5" font-family="'Liberation Sans', Arial, sans-serif" fill="#111">t<tspan font-size="6.5" dy="1.8">1</tspan></text>
<path d="M517.3 230.1H524.3M540 230.1H547" stroke="#222" stroke-width="1"/>
<path d="M516.8 230.1L522.3 227.7L522.3 232.5Z" fill="#111"/>
<path d="M547.5 230.1L542 232.5L542 227.7Z" fill="#111"/>
<text x="529.5" y="232" font-size="10.5" font-family="'Liberation Sans', Arial, sans-serif" fill="#111">t<tspan font-size="6.5" dy="1.8">2</tspan></text>
<text x="205.2" y="267.7" font-size="8" letter-spacing="1.5" fill="#111" font-family="'Liberation Sans', Arial, sans-serif">10<tspan font-size="4.6" dx="1.5" dy="-3" letter-spacing="0">-5</tspan></text>
<text x="269.57" y="267.7" font-size="8" letter-spacing="1.5" fill="#111" font-family="'Liberation Sans', Arial, sans-serif">10<tspan font-size="4.6" dx="1.5" dy="-3" letter-spacing="0">-4</tspan></text>
<text x="333.94" y="267.7" font-size="8" letter-spacing="1.5" fill="#111" font-family="'Liberation Sans', Arial, sans-serif">10<tspan font-size="4.6" dx="1.5" dy="-3" letter-spacing="0">-3</tspan></text>
<text x="398.31" y="267.7" font-size="8" letter-spacing="1.5" fill="#111" font-family="'Liberation Sans', Arial, sans-serif">10<tspan font-size="4.6" dx="1.5" dy="-3" letter-spacing="0">-2</tspan></text>
<text x="462.68" y="267.7" font-size="8" letter-spacing="1.5" fill="#111" font-family="'Liberation Sans', Arial, sans-serif">10<tspan font-size="4.6" dx="1.5" dy="-3" letter-spacing="0">-1</tspan></text>
<text x="527.05" y="267.7" font-size="8" letter-spacing="1.5" fill="#111" font-family="'Liberation Sans', Arial, sans-serif">10<tspan font-size="4.6" dx="1.5" dy="-3" letter-spacing="0">0</tspan></text>
<text x="591.42" y="267.7" font-size="8" letter-spacing="1.5" fill="#111" font-family="'Liberation Sans', Arial, sans-serif">10<tspan font-size="4.6" dx="1.5" dy="-3" letter-spacing="0">1</tspan></text>
<text x="193.4" y="71" font-size="8" letter-spacing="1.5" fill="#111" font-family="'Liberation Sans', Arial, sans-serif">10<tspan font-size="4.6" dx="1.5" dy="-3" letter-spacing="0">0</tspan></text>
<text x="191.7" y="146.1" font-size="8" letter-spacing="1.5" fill="#111" font-family="'Liberation Sans', Arial, sans-serif">10<tspan font-size="4.6" dx="1.5" dy="-3" letter-spacing="0">-1</tspan></text>
<text x="191.7" y="220.9" font-size="8" letter-spacing="1.5" fill="#111" font-family="'Liberation Sans', Arial, sans-serif">10<tspan font-size="4.6" dx="1.5" dy="-3" letter-spacing="0">-2</tspan></text>
<text transform="translate(158.8 215.2) rotate(-90)" font-size="16.2" font-family="'Liberation Serif', 'Noto Serif CJK SC', serif" fill="#111" fill-opacity="0.9">Z</text>
<text transform="translate(159.7 203.4) rotate(-90)" font-size="8.2" font-family="'Liberation Serif', 'Noto Serif CJK SC', serif" fill="#111">θ</text>
<text transform="translate(160.2 196.6) rotate(-90)" font-size="9.2" font-family="'Liberation Serif', 'Noto Serif CJK SC', serif" fill="#111">JC</text>
<text transform="translate(159.4 185.8) rotate(-90)" font-size="17" font-family="'Liberation Serif', 'Noto Serif CJK SC', serif" fill="#111">(t)</text>
<text transform="translate(158.8 164.7) rotate(-90)" font-size="15.8" font-family="'Noto Serif CJK SC', serif" fill="#111" font-weight="300">热阻抗</text>
<text x="344.6" y="312" font-size="14.85" letter-spacing="0" text-anchor="start" fill="#111" font-family="'Liberation Sans', 'Noto Sans CJK SC', sans-serif" font-weight="300">t<tspan font-size="7" dy="0.3">1</tspan><tspan dy="-0.3"> 方波宽度(sec)</tspan></text>
<text x="249.5" y="352.8" font-size="19.5" letter-spacing="0" text-anchor="start" fill="#111" font-family="'Liberation Sans', 'Noto Sans CJK SC', sans-serif" font-weight="300">图11-1. 热阻抗变化曲线(TO-220)</text>
<g stroke="#e0e0e0" stroke-width="1" stroke-dasharray="2.5 2.5" fill="none"><line x1="234.16" y1="439.9" x2="234.16" y2="634.5"/><line x1="245.83" y1="439.9" x2="245.83" y2="634.5"/><line x1="254.12" y1="439.9" x2="254.12" y2="634.5"/><line x1="260.54" y1="439.9" x2="260.54" y2="634.5"/><line x1="265.79" y1="439.9" x2="265.79" y2="634.5"/><line x1="270.23" y1="439.9" x2="270.23" y2="634.5"/><line x1="274.07" y1="439.9" x2="274.07" y2="634.5"/><line x1="277.47" y1="439.9" x2="277.47" y2="634.5"/><line x1="300.46" y1="439.9" x2="300.46" y2="634.5"/><line x1="312.13" y1="439.9" x2="312.13" y2="634.5"/><line x1="320.42" y1="439.9" x2="320.42" y2="634.5"/><line x1="326.84" y1="439.9" x2="326.84" y2="634.5"/><line x1="332.09" y1="439.9" x2="332.09" y2="634.5"/><line x1="336.53" y1="439.9" x2="336.53" y2="634.5"/><line x1="340.37" y1="439.9" x2="340.37" y2="634.5"/><line x1="343.77" y1="439.9" x2="343.77" y2="634.5"/><line x1="366.76" y1="439.9" x2="366.76" y2="634.5"/><line x1="378.43" y1="439.9" x2="378.43" y2="634.5"/><line x1="386.72" y1="439.9" x2="386.72" y2="634.5"/><line x1="393.14" y1="439.9" x2="393.14" y2="634.5"/><line x1="398.39" y1="439.9" x2="398.39" y2="634.5"/><line x1="402.83" y1="439.9" x2="402.83" y2="634.5"/><line x1="406.67" y1="439.9" x2="406.67" y2="634.5"/><line x1="410.07" y1="439.9" x2="410.07" y2="634.5"/><line x1="433.06" y1="439.9" x2="433.06" y2="634.5"/><line x1="444.73" y1="439.9" x2="444.73" y2="634.5"/><line x1="453.02" y1="439.9" x2="453.02" y2="634.5"/><line x1="459.44" y1="439.9" x2="459.44" y2="634.5"/><line x1="464.69" y1="439.9" x2="464.69" y2="634.5"/><line x1="469.13" y1="439.9" x2="469.13" y2="634.5"/><line x1="472.97" y1="439.9" x2="472.97" y2="634.5"/><line x1="476.37" y1="439.9" x2="476.37" y2="634.5"/><line x1="499.36" y1="439.9" x2="499.36" y2="634.5"/><line x1="511.03" y1="439.9" x2="511.03" y2="634.5"/><line x1="519.32" y1="439.9" x2="519.32" y2="634.5"/><line x1="525.74" y1="439.9" x2="525.74" y2="634.5"/><line x1="530.99" y1="439.9" x2="530.99" y2="634.5"/><line x1="535.43" y1="439.9" x2="535.43" y2="634.5"/><line x1="539.27" y1="439.9" x2="539.27" y2="634.5"/><line x1="542.67" y1="439.9" x2="542.67" y2="634.5"/><line x1="565.66" y1="439.9" x2="565.66" y2="634.5"/><line x1="577.33" y1="439.9" x2="577.33" y2="634.5"/><line x1="585.62" y1="439.9" x2="585.62" y2="634.5"/><line x1="592.04" y1="439.9" x2="592.04" y2="634.5"/><line x1="597.29" y1="439.9" x2="597.29" y2="634.5"/><line x1="601.73" y1="439.9" x2="601.73" y2="634.5"/><line x1="605.57" y1="439.9" x2="605.57" y2="634.5"/><line x1="608.97" y1="439.9" x2="608.97" y2="634.5"/></g>
<g stroke="#e0e0e0" stroke-width="1" stroke-dasharray="5 2.5" fill="none"><line x1="213.5" y1="629.34" x2="611" y2="629.34"/><line x1="213.5" y1="624.84" x2="611" y2="624.84"/><line x1="213.5" y1="620.95" x2="611" y2="620.95"/><line x1="213.5" y1="617.52" x2="611" y2="617.52"/><line x1="213.5" y1="594.25" x2="611" y2="594.25"/><line x1="213.5" y1="582.44" x2="611" y2="582.44"/><line x1="213.5" y1="574.05" x2="611" y2="574.05"/><line x1="213.5" y1="567.55" x2="611" y2="567.55"/><line x1="213.5" y1="562.24" x2="611" y2="562.24"/><line x1="213.5" y1="557.74" x2="611" y2="557.74"/><line x1="213.5" y1="553.85" x2="611" y2="553.85"/><line x1="213.5" y1="550.42" x2="611" y2="550.42"/><line x1="213.5" y1="527.15" x2="611" y2="527.15"/><line x1="213.5" y1="515.34" x2="611" y2="515.34"/><line x1="213.5" y1="506.95" x2="611" y2="506.95"/><line x1="213.5" y1="500.45" x2="611" y2="500.45"/><line x1="213.5" y1="495.14" x2="611" y2="495.14"/><line x1="213.5" y1="490.64" x2="611" y2="490.64"/><line x1="213.5" y1="486.75" x2="611" y2="486.75"/><line x1="213.5" y1="483.32" x2="611" y2="483.32"/><line x1="213.5" y1="460.05" x2="611" y2="460.05"/><line x1="213.5" y1="448.24" x2="611" y2="448.24"/></g>
<g stroke="#505050" stroke-width="1.3"><line x1="280.5" y1="439.9" x2="280.5" y2="634.5"/><line x1="346.8" y1="439.9" x2="346.8" y2="634.5"/><line x1="413.1" y1="439.9" x2="413.1" y2="634.5"/><line x1="479.4" y1="439.9" x2="479.4" y2="634.5"/><line x1="545.7" y1="439.9" x2="545.7" y2="634.5"/></g>
<g stroke="#505050" stroke-width="1.3"><line x1="213.5" y1="614.45" x2="611" y2="614.45"/><line x1="213.5" y1="547.35" x2="611" y2="547.35"/><line x1="213.5" y1="480.25" x2="611" y2="480.25"/></g>
<rect x="473.4" y="497.8" width="124" height="37.4" fill="#fff"/>
<rect x="266" y="602.5" width="62" height="8.5" fill="#fff"/>
<path d="M234.16 634.5v-2.2M245.83 634.5v-2.2M254.12 634.5v-2.2M260.54 634.5v-2.2M265.79 634.5v-2.2M270.23 634.5v-2.2M274.07 634.5v-2.2M277.47 634.5v-2.2M280.5 634.5v-3M300.46 634.5v-2.2M312.13 634.5v-2.2M320.42 634.5v-2.2M326.84 634.5v-2.2M332.09 634.5v-2.2M336.53 634.5v-2.2M340.37 634.5v-2.2M343.77 634.5v-2.2M346.8 634.5v-3M366.76 634.5v-2.2M378.43 634.5v-2.2M386.72 634.5v-2.2M393.14 634.5v-2.2M398.39 634.5v-2.2M402.83 634.5v-2.2M406.67 634.5v-2.2M410.07 634.5v-2.2M413.1 634.5v-3M433.06 634.5v-2.2M444.73 634.5v-2.2M453.02 634.5v-2.2M459.44 634.5v-2.2M464.69 634.5v-2.2M469.13 634.5v-2.2M472.97 634.5v-2.2M476.37 634.5v-2.2M479.4 634.5v-3M499.36 634.5v-2.2M511.03 634.5v-2.2M519.32 634.5v-2.2M525.74 634.5v-2.2M530.99 634.5v-2.2M535.43 634.5v-2.2M539.27 634.5v-2.2M542.67 634.5v-2.2M545.7 634.5v-3M565.66 634.5v-2.2M577.33 634.5v-2.2M585.62 634.5v-2.2M592.04 634.5v-2.2M597.29 634.5v-2.2M601.73 634.5v-2.2M605.57 634.5v-2.2M608.97 634.5v-2.2M213.5 629.34h2.4M213.5 624.84h2.4M213.5 620.95h2.4M213.5 617.52h2.4M213.5 614.45h3M213.5 594.25h2.4M213.5 582.44h2.4M213.5 574.05h2.4M213.5 567.55h2.4M213.5 562.24h2.4M213.5 557.74h2.4M213.5 553.85h2.4M213.5 550.42h2.4M213.5 547.35h3M213.5 527.15h2.4M213.5 515.34h2.4M213.5 506.95h2.4M213.5 500.45h2.4M213.5 495.14h2.4M213.5 490.64h2.4M213.5 486.75h2.4M213.5 483.32h2.4M213.5 480.25h3M213.5 460.05h2.4M213.5 448.24h2.4" stroke="#111" stroke-width="1.3" fill="none"/>
<mask id="m2" maskUnits="userSpaceOnUse" x="0" y="0" width="812" height="779"><rect x="0" y="0" width="812" height="779" fill="#fff"/>
<rect x="223.5" y="468" width="31" height="10" fill="#000"/>
<rect x="226.5" y="494" width="16.5" height="11" fill="#000"/>
<rect x="227" y="513" width="16" height="11" fill="#000"/>
<rect x="224" y="531" width="23" height="11" fill="#000"/>
<rect x="224" y="553" width="22.5" height="11" fill="#000"/>
<rect x="225.5" y="568" width="21" height="11" fill="#000"/>
</mask>
<clipPath id="m2c"><rect x="213.5" y="439.9" width="397.5" height="194.6"/></clipPath>
<g clip-path="url(#m2c)"><g mask="url(#m2)" stroke="#0a0a0a" stroke-width="1.7" fill="none" stroke-linejoin="round">
<path d="M213.5 472.78 L215.5 472.78 L217.5 472.78 L219.5 472.77 L221.5 472.76 L223.5 472.75 L225.5 472.73 L227.5 472.72 L229.5 472.7 L231.5 472.68 L233.5 472.66 L235.5 472.64 L237.5 472.61 L239.5 472.59 L241.5 472.56 L243.5 472.54 L245.5 472.51 L247.5 472.48 L249.5 472.46 L251.5 472.43 L253.5 472.4 L255.5 472.38 L257.5 472.35 L259.5 472.32 L261.5 472.3 L263.5 472.27 L265.5 472.25 L267.5 472.22 L269.5 472.2 L271.5 472.18 L273.5 472.16 L275.5 472.13 L277.5 472.11 L279.5 472.09 L281.5 472.07 L283.5 472.05 L285.5 472.04 L287.5 472.02 L289.5 472 L291.5 471.98 L293.5 471.97 L295.5 471.95 L297.5 471.94 L299.5 471.92 L301.5 471.9 L303.5 471.89 L305.5 471.87 L307.5 471.86 L309.5 471.84 L311.5 471.83 L313.5 471.81 L315.5 471.8 L317.5 471.78 L319.5 471.77 L321.5 471.75 L323.5 471.73 L325.5 471.72 L327.5 471.7 L329.5 471.68 L331.5 471.66 L333.5 471.64 L335.5 471.61 L337.5 471.59 L339.5 471.56 L341.5 471.54 L343.5 471.51 L345.5 471.48 L347.5 471.45 L349.5 471.42 L351.5 471.38 L353.5 471.35 L355.5 471.31 L357.5 471.27 L359.5 471.23 L361.5 471.18 L363.5 471.14 L365.5 471.09 L367.5 471.04 L369.5 470.98 L371.5 470.93 L373.5 470.87 L375.5 470.81 L377.5 470.74 L379.5 470.68 L381.5 470.61 L383.5 470.53 L385.5 470.46 L387.5 470.38 L389.5 470.3 L391.5 470.21 L393.5 470.12 L395.5 470.03 L397.5 469.94 L399.5 469.84 L401.5 469.74 L403.5 469.64 L405.5 469.53 L407.5 469.42 L409.5 469.31 L411.5 469.19 L413.5 469.07 L415.5 468.94 L417.5 468.82 L419.5 468.69 L421.5 468.55 L423.5 468.42 L425.5 468.28 L427.5 468.13 L429.5 467.99 L431.5 467.84 L433.5 467.69 L435.5 467.53 L437.5 467.37 L439.5 467.21 L441.5 467.04 L443.5 466.88 L445.5 466.71 L447.5 466.53 L449.5 466.36 L451.5 466.18 L453.5 466 L455.5 465.81 L457.5 465.63 L459.5 465.44 L461.5 465.25 L463.5 465.05 L465.5 464.86 L467.5 464.66 L469.5 464.46 L471.5 464.26 L473.5 464.06 L475.5 463.85 L477.5 463.65 L479.5 463.44 L481.5 463.23 L483.5 463.02 L485.5 462.81 L487.5 462.59 L489.5 462.38 L491.5 462.17 L493.5 461.95 L495.5 461.74 L497.5 461.52 L499.5 461.31 L501.5 461.09 L503.5 460.87 L505.5 460.66 L507.5 460.44 L509.5 460.23 L511.5 460.01 L513.5 459.8 L515.5 459.59 L517.5 459.38 L519.5 459.17 L521.5 458.96 L523.5 458.75 L525.5 458.54 L527.5 458.34 L529.5 458.13 L531.5 457.93 L533.5 457.73 L535.5 457.53 L537.5 457.34 L539.5 457.15 L541.5 456.95 L543.5 456.77 L545.5 456.58 L547.5 456.4 L549.5 456.22 L551.5 456.05 L553.5 455.87 L555.5 455.7 L557.5 455.54 L559.5 455.38 L561.5 455.22 L563.5 455.06 L565.5 454.91 L567.5 454.76 L569.5 454.62 L571.5 454.48 L573.5 454.34 L575.5 454.21 L577.5 454.09 L579.5 453.96 L581.5 453.84 L583.5 453.73 L585.5 453.62 L587.5 453.51 L589.5 453.41 L591.5 453.32 L593.5 453.22 L595.5 453.14 L597.5 453.05 L599.5 452.97 L601.5 452.9 L603.5 452.82 L605.5 452.76 L607.5 452.69 L609.5 452.63 L610.8 452.6"/>
<path d="M213.5 499.48 L215.5 499.46 L217.5 499.44 L219.5 499.42 L221.5 499.39 L223.5 499.36 L225.5 499.32 L227.5 499.28 L229.5 499.24 L231.5 499.2 L233.5 499.15 L235.5 499.11 L237.5 499.06 L239.5 499.01 L241.5 498.95 L243.5 498.9 L245.5 498.84 L247.5 498.78 L249.5 498.73 L251.5 498.67 L253.5 498.61 L255.5 498.54 L257.5 498.48 L259.5 498.42 L261.5 498.35 L263.5 498.29 L265.5 498.22 L267.5 498.16 L269.5 498.09 L271.5 498.02 L273.5 497.95 L275.5 497.88 L277.5 497.81 L279.5 497.74 L281.5 497.67 L283.5 497.6 L285.5 497.52 L287.5 497.45 L289.5 497.37 L291.5 497.29 L293.5 497.21 L295.5 497.13 L297.5 497.05 L299.5 496.97 L301.5 496.89 L303.5 496.8 L305.5 496.71 L307.5 496.62 L309.5 496.53 L311.5 496.44 L313.5 496.34 L315.5 496.24 L317.5 496.14 L319.5 496.04 L321.5 495.94 L323.5 495.83 L325.5 495.72 L327.5 495.6 L329.5 495.49 L331.5 495.37 L333.5 495.25 L335.5 495.12 L337.5 494.99 L339.5 494.86 L341.5 494.72 L343.5 494.58 L345.5 494.44 L347.5 494.29 L349.5 494.14 L351.5 493.98 L353.5 493.82 L355.5 493.66 L357.5 493.49 L359.5 493.32 L361.5 493.14 L363.5 492.96 L365.5 492.77 L367.5 492.58 L369.5 492.39 L371.5 492.19 L373.5 491.98 L375.5 491.77 L377.5 491.55 L379.5 491.33 L381.5 491.11 L383.5 490.88 L385.5 490.64 L387.5 490.4 L389.5 490.15 L391.5 489.9 L393.5 489.64 L395.5 489.38 L397.5 489.11 L399.5 488.84 L401.5 488.56 L403.5 488.27 L405.5 487.98 L407.5 487.69 L409.5 487.39 L411.5 487.08 L413.5 486.77 L415.5 486.45 L417.5 486.13 L419.5 485.8 L421.5 485.47 L423.5 485.14 L425.5 484.79 L427.5 484.44 L429.5 484.09 L431.5 483.73 L433.5 483.37 L435.5 483.01 L437.5 482.63 L439.5 482.26 L441.5 481.88 L443.5 481.49 L445.5 481.1 L447.5 480.71 L449.5 480.31 L451.5 479.91 L453.5 479.51 L455.5 479.1 L457.5 478.69 L459.5 478.27 L461.5 477.85 L463.5 477.43 L465.5 477.01 L467.5 476.58 L469.5 476.15 L471.5 475.72 L473.5 475.28 L475.5 474.84 L477.5 474.41 L479.5 473.97 L481.5 473.52 L483.5 473.08 L485.5 472.64 L487.5 472.19 L489.5 471.75 L491.5 471.3 L493.5 470.85 L495.5 470.41 L497.5 469.96 L499.5 469.51 L501.5 469.07 L503.5 468.62 L505.5 468.18 L507.5 467.74 L509.5 467.3 L511.5 466.86 L513.5 466.42 L515.5 465.99 L517.5 465.56 L519.5 465.13 L521.5 464.7 L523.5 464.28 L525.5 463.86 L527.5 463.44 L529.5 463.03 L531.5 462.62 L533.5 462.22 L535.5 461.82 L537.5 461.43 L539.5 461.04 L541.5 460.66 L543.5 460.28 L545.5 459.91 L547.5 459.55 L549.5 459.19 L551.5 458.84 L553.5 458.5 L555.5 458.16 L557.5 457.83 L559.5 457.51 L561.5 457.2 L563.5 456.89 L565.5 456.6 L567.5 456.31 L569.5 456.03 L571.5 455.76 L573.5 455.5 L575.5 455.25 L577.5 455.01 L579.5 454.77 L581.5 454.55 L583.5 454.34 L585.5 454.14 L587.5 453.95 L589.5 453.77 L591.5 453.61 L593.5 453.45 L595.5 453.3 L597.5 453.17 L599.5 453.05 L601.5 452.94 L603.5 452.84 L605.5 452.75 L607.5 452.68 L609.5 452.61 L610.8 452.58"/>
<path d="M213.5 518.53 L215.5 518.51 L217.5 518.49 L219.5 518.47 L221.5 518.44 L223.5 518.41 L225.5 518.37 L227.5 518.33 L229.5 518.28 L231.5 518.24 L233.5 518.18 L235.5 518.13 L237.5 518.07 L239.5 518.01 L241.5 517.94 L243.5 517.87 L245.5 517.8 L247.5 517.72 L249.5 517.65 L251.5 517.57 L253.5 517.48 L255.5 517.4 L257.5 517.31 L259.5 517.22 L261.5 517.13 L263.5 517.03 L265.5 516.93 L267.5 516.83 L269.5 516.72 L271.5 516.62 L273.5 516.51 L275.5 516.39 L277.5 516.28 L279.5 516.16 L281.5 516.04 L283.5 515.91 L285.5 515.79 L287.5 515.65 L289.5 515.52 L291.5 515.38 L293.5 515.24 L295.5 515.1 L297.5 514.95 L299.5 514.8 L301.5 514.64 L303.5 514.48 L305.5 514.32 L307.5 514.15 L309.5 513.98 L311.5 513.81 L313.5 513.63 L315.5 513.44 L317.5 513.25 L319.5 513.06 L321.5 512.86 L323.5 512.66 L325.5 512.45 L327.5 512.24 L329.5 512.02 L331.5 511.8 L333.5 511.57 L335.5 511.34 L337.5 511.1 L339.5 510.85 L341.5 510.6 L343.5 510.35 L345.5 510.09 L347.5 509.82 L349.5 509.55 L351.5 509.27 L353.5 508.98 L355.5 508.69 L357.5 508.39 L359.5 508.09 L361.5 507.78 L363.5 507.46 L365.5 507.14 L367.5 506.81 L369.5 506.48 L371.5 506.13 L373.5 505.78 L375.5 505.43 L377.5 505.07 L379.5 504.7 L381.5 504.33 L383.5 503.94 L385.5 503.56 L387.5 503.16 L389.5 502.76 L391.5 502.35 L393.5 501.94 L395.5 501.52 L397.5 501.09 L399.5 500.66 L401.5 500.22 L403.5 499.77 L405.5 499.32 L407.5 498.86 L409.5 498.4 L411.5 497.93 L413.5 497.45 L415.5 496.97 L417.5 496.48 L419.5 495.98 L421.5 495.48 L423.5 494.98 L425.5 494.46 L427.5 493.95 L429.5 493.43 L431.5 492.9 L433.5 492.37 L435.5 491.83 L437.5 491.29 L439.5 490.74 L441.5 490.19 L443.5 489.64 L445.5 489.08 L447.5 488.52 L449.5 487.95 L451.5 487.38 L453.5 486.81 L455.5 486.23 L457.5 485.65 L459.5 485.07 L461.5 484.48 L463.5 483.9 L465.5 483.31 L467.5 482.71 L469.5 482.12 L471.5 481.53 L473.5 480.93 L475.5 480.34 L477.5 479.74 L479.5 479.14 L481.5 478.54 L483.5 477.94 L485.5 477.35 L487.5 476.75 L489.5 476.15 L491.5 475.56 L493.5 474.96 L495.5 474.37 L497.5 473.78 L499.5 473.19 L501.5 472.6 L503.5 472.02 L505.5 471.44 L507.5 470.86 L509.5 470.29 L511.5 469.72 L513.5 469.15 L515.5 468.59 L517.5 468.04 L519.5 467.49 L521.5 466.94 L523.5 466.4 L525.5 465.87 L527.5 465.34 L529.5 464.82 L531.5 464.3 L533.5 463.8 L535.5 463.3 L537.5 462.81 L539.5 462.32 L541.5 461.85 L543.5 461.38 L545.5 460.93 L547.5 460.48 L549.5 460.04 L551.5 459.61 L553.5 459.19 L555.5 458.79 L557.5 458.39 L559.5 458 L561.5 457.63 L563.5 457.27 L565.5 456.91 L567.5 456.58 L569.5 456.25 L571.5 455.93 L573.5 455.63 L575.5 455.35 L577.5 455.07 L579.5 454.81 L581.5 454.56 L583.5 454.33 L585.5 454.11 L587.5 453.9 L589.5 453.71 L591.5 453.54 L593.5 453.38 L595.5 453.23 L597.5 453.1 L599.5 452.98 L601.5 452.89 L603.5 452.8 L605.5 452.73 L607.5 452.68 L609.5 452.64 L610.8 452.63"/>
<path d="M213.5 537.94 L215.5 537.85 L217.5 537.76 L219.5 537.66 L221.5 537.56 L223.5 537.45 L225.5 537.34 L227.5 537.22 L229.5 537.1 L231.5 536.97 L233.5 536.84 L235.5 536.71 L237.5 536.57 L239.5 536.42 L241.5 536.28 L243.5 536.13 L245.5 535.97 L247.5 535.81 L249.5 535.65 L251.5 535.49 L253.5 535.32 L255.5 535.15 L257.5 534.98 L259.5 534.8 L261.5 534.62 L263.5 534.43 L265.5 534.24 L267.5 534.05 L269.5 533.85 L271.5 533.65 L273.5 533.45 L275.5 533.24 L277.5 533.03 L279.5 532.82 L281.5 532.6 L283.5 532.38 L285.5 532.15 L287.5 531.92 L289.5 531.69 L291.5 531.45 L293.5 531.2 L295.5 530.95 L297.5 530.7 L299.5 530.44 L301.5 530.18 L303.5 529.91 L305.5 529.64 L307.5 529.36 L309.5 529.07 L311.5 528.78 L313.5 528.49 L315.5 528.19 L317.5 527.88 L319.5 527.57 L321.5 527.25 L323.5 526.93 L325.5 526.6 L327.5 526.26 L329.5 525.92 L331.5 525.57 L333.5 525.21 L335.5 524.85 L337.5 524.48 L339.5 524.1 L341.5 523.72 L343.5 523.33 L345.5 522.93 L347.5 522.52 L349.5 522.11 L351.5 521.69 L353.5 521.27 L355.5 520.83 L357.5 520.39 L359.5 519.94 L361.5 519.49 L363.5 519.03 L365.5 518.56 L367.5 518.08 L369.5 517.59 L371.5 517.1 L373.5 516.6 L375.5 516.09 L377.5 515.58 L379.5 515.05 L381.5 514.52 L383.5 513.99 L385.5 513.44 L387.5 512.89 L389.5 512.33 L391.5 511.77 L393.5 511.19 L395.5 510.61 L397.5 510.03 L399.5 509.43 L401.5 508.83 L403.5 508.22 L405.5 507.61 L407.5 506.99 L409.5 506.36 L411.5 505.73 L413.5 505.09 L415.5 504.45 L417.5 503.8 L419.5 503.15 L421.5 502.49 L423.5 501.82 L425.5 501.15 L427.5 500.47 L429.5 499.79 L431.5 499.11 L433.5 498.42 L435.5 497.73 L437.5 497.03 L439.5 496.33 L441.5 495.63 L443.5 494.92 L445.5 494.21 L447.5 493.5 L449.5 492.78 L451.5 492.06 L453.5 491.35 L455.5 490.63 L457.5 489.9 L459.5 489.18 L461.5 488.46 L463.5 487.73 L465.5 487.01 L467.5 486.28 L469.5 485.56 L471.5 484.83 L473.5 484.11 L475.5 483.39 L477.5 482.67 L479.5 481.95 L481.5 481.23 L483.5 480.52 L485.5 479.81 L487.5 479.1 L489.5 478.4 L491.5 477.7 L493.5 477 L495.5 476.31 L497.5 475.62 L499.5 474.93 L501.5 474.26 L503.5 473.58 L505.5 472.92 L507.5 472.26 L509.5 471.6 L511.5 470.96 L513.5 470.32 L515.5 469.69 L517.5 469.06 L519.5 468.45 L521.5 467.84 L523.5 467.24 L525.5 466.65 L527.5 466.07 L529.5 465.5 L531.5 464.93 L533.5 464.38 L535.5 463.84 L537.5 463.31 L539.5 462.79 L541.5 462.28 L543.5 461.79 L545.5 461.3 L547.5 460.83 L549.5 460.36 L551.5 459.91 L553.5 459.48 L555.5 459.05 L557.5 458.64 L559.5 458.24 L561.5 457.86 L563.5 457.48 L565.5 457.12 L567.5 456.78 L569.5 456.45 L571.5 456.13 L573.5 455.82 L575.5 455.53 L577.5 455.25 L579.5 454.99 L581.5 454.74 L583.5 454.5 L585.5 454.28 L587.5 454.07 L589.5 453.88 L591.5 453.7 L593.5 453.53 L595.5 453.37 L597.5 453.23 L599.5 453.1 L601.5 452.99 L603.5 452.89 L605.5 452.8 L607.5 452.72 L609.5 452.65 L610.8 452.61"/>
<path d="M213.5 561.39 L215.5 561.24 L217.5 561.07 L219.5 560.9 L221.5 560.71 L223.5 560.52 L225.5 560.31 L227.5 560.1 L229.5 559.87 L231.5 559.64 L233.5 559.4 L235.5 559.15 L237.5 558.89 L239.5 558.63 L241.5 558.35 L243.5 558.07 L245.5 557.78 L247.5 557.49 L249.5 557.18 L251.5 556.87 L253.5 556.56 L255.5 556.23 L257.5 555.9 L259.5 555.57 L261.5 555.22 L263.5 554.87 L265.5 554.52 L267.5 554.16 L269.5 553.79 L271.5 553.41 L273.5 553.03 L275.5 552.65 L277.5 552.26 L279.5 551.86 L281.5 551.45 L283.5 551.05 L285.5 550.63 L287.5 550.21 L289.5 549.78 L291.5 549.35 L293.5 548.91 L295.5 548.46 L297.5 548.01 L299.5 547.55 L301.5 547.09 L303.5 546.62 L305.5 546.14 L307.5 545.66 L309.5 545.17 L311.5 544.68 L313.5 544.18 L315.5 543.67 L317.5 543.16 L319.5 542.64 L321.5 542.11 L323.5 541.58 L325.5 541.04 L327.5 540.49 L329.5 539.94 L331.5 539.38 L333.5 538.82 L335.5 538.25 L337.5 537.67 L339.5 537.08 L341.5 536.49 L343.5 535.89 L345.5 535.29 L347.5 534.68 L349.5 534.06 L351.5 533.44 L353.5 532.81 L355.5 532.17 L357.5 531.53 L359.5 530.88 L361.5 530.22 L363.5 529.55 L365.5 528.88 L367.5 528.21 L369.5 527.53 L371.5 526.84 L373.5 526.14 L375.5 525.44 L377.5 524.73 L379.5 524.02 L381.5 523.3 L383.5 522.57 L385.5 521.84 L387.5 521.11 L389.5 520.36 L391.5 519.62 L393.5 518.86 L395.5 518.1 L397.5 517.34 L399.5 516.57 L401.5 515.8 L403.5 515.02 L405.5 514.23 L407.5 513.45 L409.5 512.65 L411.5 511.86 L413.5 511.06 L415.5 510.25 L417.5 509.45 L419.5 508.64 L421.5 507.82 L423.5 507 L425.5 506.18 L427.5 505.36 L429.5 504.54 L431.5 503.71 L433.5 502.88 L435.5 502.05 L437.5 501.22 L439.5 500.38 L441.5 499.55 L443.5 498.71 L445.5 497.87 L447.5 497.04 L449.5 496.2 L451.5 495.36 L453.5 494.53 L455.5 493.69 L457.5 492.86 L459.5 492.02 L461.5 491.19 L463.5 490.36 L465.5 489.54 L467.5 488.71 L469.5 487.89 L471.5 487.07 L473.5 486.25 L475.5 485.44 L477.5 484.63 L479.5 483.83 L481.5 483.03 L483.5 482.24 L485.5 481.45 L487.5 480.66 L489.5 479.88 L491.5 479.11 L493.5 478.35 L495.5 477.59 L497.5 476.83 L499.5 476.09 L501.5 475.35 L503.5 474.62 L505.5 473.9 L507.5 473.19 L509.5 472.48 L511.5 471.79 L513.5 471.1 L515.5 470.43 L517.5 469.76 L519.5 469.1 L521.5 468.46 L523.5 467.82 L525.5 467.2 L527.5 466.58 L529.5 465.98 L531.5 465.39 L533.5 464.81 L535.5 464.24 L537.5 463.69 L539.5 463.15 L541.5 462.62 L543.5 462.1 L545.5 461.6 L547.5 461.11 L549.5 460.63 L551.5 460.16 L553.5 459.71 L555.5 459.28 L557.5 458.85 L559.5 458.45 L561.5 458.05 L563.5 457.67 L565.5 457.3 L567.5 456.95 L569.5 456.61 L571.5 456.29 L573.5 455.97 L575.5 455.68 L577.5 455.39 L579.5 455.13 L581.5 454.87 L583.5 454.63 L585.5 454.4 L587.5 454.19 L589.5 453.99 L591.5 453.8 L593.5 453.62 L595.5 453.46 L597.5 453.31 L599.5 453.17 L601.5 453.05 L603.5 452.93 L605.5 452.83 L607.5 452.73 L609.5 452.65 L610.8 452.6"/>
<path d="M213.5 577.56 L215.5 577.24 L217.5 576.92 L219.5 576.59 L221.5 576.25 L223.5 575.91 L225.5 575.55 L227.5 575.19 L229.5 574.81 L231.5 574.43 L233.5 574.04 L235.5 573.65 L237.5 573.24 L239.5 572.83 L241.5 572.41 L243.5 571.98 L245.5 571.55 L247.5 571.11 L249.5 570.66 L251.5 570.2 L253.5 569.73 L255.5 569.26 L257.5 568.79 L259.5 568.3 L261.5 567.81 L263.5 567.31 L265.5 566.8 L267.5 566.29 L269.5 565.77 L271.5 565.25 L273.5 564.71 L275.5 564.18 L277.5 563.63 L279.5 563.08 L281.5 562.52 L283.5 561.95 L285.5 561.38 L287.5 560.8 L289.5 560.22 L291.5 559.63 L293.5 559.03 L295.5 558.43 L297.5 557.82 L299.5 557.2 L301.5 556.58 L303.5 555.95 L305.5 555.32 L307.5 554.68 L309.5 554.03 L311.5 553.38 L313.5 552.72 L315.5 552.06 L317.5 551.38 L319.5 550.71 L321.5 550.03 L323.5 549.34 L325.5 548.64 L327.5 547.94 L329.5 547.24 L331.5 546.53 L333.5 545.81 L335.5 545.09 L337.5 544.36 L339.5 543.63 L341.5 542.89 L343.5 542.14 L345.5 541.39 L347.5 540.64 L349.5 539.88 L351.5 539.11 L353.5 538.34 L355.5 537.57 L357.5 536.79 L359.5 536 L361.5 535.21 L363.5 534.42 L365.5 533.62 L367.5 532.82 L369.5 532.01 L371.5 531.2 L373.5 530.38 L375.5 529.56 L377.5 528.73 L379.5 527.9 L381.5 527.07 L383.5 526.24 L385.5 525.4 L387.5 524.55 L389.5 523.71 L391.5 522.86 L393.5 522 L395.5 521.15 L397.5 520.29 L399.5 519.43 L401.5 518.56 L403.5 517.7 L405.5 516.83 L407.5 515.96 L409.5 515.08 L411.5 514.21 L413.5 513.33 L415.5 512.46 L417.5 511.58 L419.5 510.7 L421.5 509.82 L423.5 508.93 L425.5 508.05 L427.5 507.17 L429.5 506.29 L431.5 505.4 L433.5 504.52 L435.5 503.64 L437.5 502.75 L439.5 501.87 L441.5 500.99 L443.5 500.11 L445.5 499.23 L447.5 498.36 L449.5 497.48 L451.5 496.61 L453.5 495.74 L455.5 494.87 L457.5 494 L459.5 493.14 L461.5 492.28 L463.5 491.42 L465.5 490.57 L467.5 489.72 L469.5 488.87 L471.5 488.03 L473.5 487.19 L475.5 486.36 L477.5 485.53 L479.5 484.71 L481.5 483.89 L483.5 483.08 L485.5 482.28 L487.5 481.48 L489.5 480.68 L491.5 479.9 L493.5 479.11 L495.5 478.34 L497.5 477.58 L499.5 476.82 L501.5 476.07 L503.5 475.32 L505.5 474.59 L507.5 473.86 L509.5 473.14 L511.5 472.43 L513.5 471.73 L515.5 471.04 L517.5 470.36 L519.5 469.69 L521.5 469.03 L523.5 468.38 L525.5 467.74 L527.5 467.11 L529.5 466.49 L531.5 465.88 L533.5 465.29 L535.5 464.7 L537.5 464.13 L539.5 463.57 L541.5 463.02 L543.5 462.49 L545.5 461.96 L547.5 461.45 L549.5 460.95 L551.5 460.47 L553.5 460 L555.5 459.54 L557.5 459.09 L559.5 458.66 L561.5 458.24 L563.5 457.84 L565.5 457.45 L567.5 457.08 L569.5 456.72 L571.5 456.37 L573.5 456.04 L575.5 455.72 L577.5 455.42 L579.5 455.13 L581.5 454.86 L583.5 454.61 L585.5 454.36 L587.5 454.14 L589.5 453.93 L591.5 453.73 L593.5 453.55 L595.5 453.39 L597.5 453.24 L599.5 453.1 L601.5 452.98 L603.5 452.88 L605.5 452.79 L607.5 452.72 L609.5 452.66 L610.8 452.63"/>
<path d="M213.5 615.47 L215.5 614.5 L217.5 613.54 L219.5 612.57 L221.5 611.61 L223.5 610.64 L225.5 609.67 L227.5 608.71 L229.5 607.74 L231.5 606.76 L233.5 605.79 L235.5 604.82 L237.5 603.85 L239.5 602.87 L241.5 601.9 L243.5 600.92 L245.5 599.94 L247.5 598.96 L249.5 597.98 L251.5 597 L253.5 596.01 L255.5 595.03 L257.5 594.04 L259.5 593.06 L261.5 592.07 L263.5 591.08 L265.5 590.09 L267.5 589.1 L269.5 588.1 L271.5 587.11 L273.5 586.11 L275.5 585.12 L277.5 584.12 L279.5 583.12 L281.5 582.12 L283.5 581.12 L285.5 580.11 L287.5 579.11 L289.5 578.11 L291.5 577.1 L293.5 576.09 L295.5 575.09 L297.5 574.08 L299.5 573.07 L301.5 572.06 L303.5 571.05 L305.5 570.04 L307.5 569.03 L309.5 568.01 L311.5 567 L313.5 565.99 L315.5 564.97 L317.5 563.96 L319.5 562.94 L321.5 561.93 L323.5 560.91 L325.5 559.9 L327.5 558.88 L329.5 557.86 L331.5 556.85 L333.5 555.83 L335.5 554.81 L337.5 553.8 L339.5 552.78 L341.5 551.77 L343.5 550.75 L345.5 549.73 L347.5 548.72 L349.5 547.7 L351.5 546.69 L353.5 545.68 L355.5 544.66 L357.5 543.65 L359.5 542.64 L361.5 541.63 L363.5 540.62 L365.5 539.61 L367.5 538.6 L369.5 537.59 L371.5 536.59 L373.5 535.58 L375.5 534.58 L377.5 533.57 L379.5 532.57 L381.5 531.57 L383.5 530.57 L385.5 529.58 L387.5 528.58 L389.5 527.59 L391.5 526.6 L393.5 525.61 L395.5 524.62 L397.5 523.63 L399.5 522.65 L401.5 521.67 L403.5 520.69 L405.5 519.71 L407.5 518.73 L409.5 517.76 L411.5 516.79 L413.5 515.82 L415.5 514.86 L417.5 513.89 L419.5 512.93 L421.5 511.98 L423.5 511.02 L425.5 510.07 L427.5 509.12 L429.5 508.18 L431.5 507.24 L433.5 506.3 L435.5 505.36 L437.5 504.43 L439.5 503.5 L441.5 502.58 L443.5 501.66 L445.5 500.74 L447.5 499.83 L449.5 498.92 L451.5 498.02 L453.5 497.12 L455.5 496.22 L457.5 495.33 L459.5 494.44 L461.5 493.56 L463.5 492.68 L465.5 491.81 L467.5 490.94 L469.5 490.08 L471.5 489.23 L473.5 488.37 L475.5 487.53 L477.5 486.69 L479.5 485.85 L481.5 485.02 L483.5 484.2 L485.5 483.38 L487.5 482.57 L489.5 481.77 L491.5 480.97 L493.5 480.18 L495.5 479.39 L497.5 478.62 L499.5 477.85 L501.5 477.08 L503.5 476.33 L505.5 475.58 L507.5 474.84 L509.5 474.1 L511.5 473.38 L513.5 472.66 L515.5 471.96 L517.5 471.26 L519.5 470.57 L521.5 469.89 L523.5 469.21 L525.5 468.55 L527.5 467.9 L529.5 467.25 L531.5 466.62 L533.5 466 L535.5 465.39 L537.5 464.78 L539.5 464.19 L541.5 463.61 L543.5 463.04 L545.5 462.49 L547.5 461.94 L549.5 461.41 L551.5 460.89 L553.5 460.39 L555.5 459.89 L557.5 459.41 L559.5 458.94 L561.5 458.49 L563.5 458.05 L565.5 457.63 L567.5 457.22 L569.5 456.82 L571.5 456.45 L573.5 456.08 L575.5 455.74 L577.5 455.41 L579.5 455.09 L581.5 454.8 L583.5 454.52 L585.5 454.26 L587.5 454.02 L589.5 453.8 L591.5 453.6 L593.5 453.41 L595.5 453.25 L597.5 453.11 L599.5 452.99 L601.5 452.89 L603.5 452.81 L605.5 452.75 L607.5 452.72 L609.5 452.71 L610.8 452.72"/>
</g></g>
<rect x="213.5" y="439.9" width="397.5" height="194.6" fill="none" stroke="#3a3a3a" stroke-width="1.5"/>
<text x="223.6" y="476" font-size="8.5" letter-spacing="0.85" text-anchor="start" fill="#111" font-family="'Liberation Sans', Arial, sans-serif">D =0.5</text>
<text x="226.9" y="503" font-size="8.5" letter-spacing="1.25" text-anchor="start" fill="#111" font-family="'Liberation Sans', Arial, sans-serif">0.2</text>
<text x="227.3" y="522.9" font-size="8.5" letter-spacing="1.25" text-anchor="start" fill="#111" font-family="'Liberation Sans', Arial, sans-serif">0.1</text>
<text x="224.5" y="539.9" font-size="8.5" letter-spacing="1.25" text-anchor="start" fill="#111" font-family="'Liberation Sans', Arial, sans-serif">0.05</text>
<text x="224.5" y="562.2" font-size="8.5" letter-spacing="1.25" text-anchor="start" fill="#111" font-family="'Liberation Sans', Arial, sans-serif">0.02</text>
<text x="225.5" y="577.2" font-size="8.5" letter-spacing="1.25" text-anchor="start" fill="#111" font-family="'Liberation Sans', Arial, sans-serif">0.01</text>
<text x="267" y="609.9" font-size="8" letter-spacing="1.5" text-anchor="start" fill="#111" font-family="'Liberation Sans', Arial, sans-serif">single pulse</text>
<line x1="284.9" y1="601" x2="267" y2="591.1" stroke="#111" stroke-width="1"/>
<path d="M264.6 589.8L271.01 590.6L268.69 594.8Z" fill="#111"/>
<g font-family="'Liberation Sans', Arial, sans-serif" font-size="7.0" letter-spacing="0.75" fill="#111">
<text x="477" y="507.5" font-size="7.5" font-weight="bold" letter-spacing="0">※</text>
<text x="489.1" y="508.1">Notes :</text>
<text x="483.6" y="515.7">1. Z<tspan font-size="4.6" dy="2">θ JC</tspan><tspan dy="-2">(t) = 2.58 ℃/W Max.</tspan></text>
<text x="483.6" y="523.7">2. Duty Factor, D=t<tspan font-size="4.6" dy="2">1</tspan><tspan dy="-2">/t</tspan><tspan font-size="4.6" dy="2">2</tspan></text>
<text x="483.6" y="531.7">3. T<tspan font-size="4.6" dy="1.5">JM</tspan><tspan dy="-1.5"> - T</tspan><tspan font-size="4.6" dy="1.5">C</tspan><tspan dy="-1.5"> = P</tspan><tspan font-size="4.6" dy="1.5">DM</tspan><tspan dy="-1.5"> * Z</tspan><tspan font-size="4.6" dy="2">θ JC</tspan><tspan dy="-2">(t)</tspan></text>
</g>
<path d="M520.4 586.8H527V570.1H543.7V586.8H559.9V570.1H576.5V586.8H583" stroke="#000" stroke-width="3" fill="none" stroke-linejoin="miter"/>
<path d="M507.8 570.1H517.7M507.8 586.8H517.7M512.5 573.1V583.8" stroke="#222" stroke-width="1" fill="none"/>
<path d="M512.5 570.6L514.9 576.1L510.1 576.1Z" fill="#111"/>
<path d="M512.5 586.3L510.1 580.8L514.9 580.8Z" fill="#111"/>
<text x="490" y="580.7" font-size="9.8" font-family="'Liberation Sans', Arial, sans-serif" fill="#111">P<tspan font-size="7" dy="2.4" letter-spacing="-0.2">DM</tspan></text>
<path d="M527 592.3V611.9M543.7 592.3V601.3M559.9 604.5V611.9" stroke="#333" stroke-width="1" fill="none"/>
<path d="M520 597.3H526M544.7 597.3H551.7" stroke="#222" stroke-width="1"/>
<path d="M526.5 597.3L521 599.7L521 594.9Z" fill="#111"/>
<path d="M544.2 597.3L549.7 594.9L549.7 599.7Z" fill="#111"/>
<text x="534.2" y="600.5" font-size="10.5" font-family="'Liberation Sans', Arial, sans-serif" fill="#111">t<tspan font-size="6.5" dy="1.8">1</tspan></text>
<path d="M528 608.5H535M551.9 608.5H558.9" stroke="#222" stroke-width="1"/>
<path d="M527.5 608.5L533 606.1L533 610.9Z" fill="#111"/>
<path d="M559.4 608.5L553.9 610.9L553.9 606.1Z" fill="#111"/>
<text x="541" y="611" font-size="10.5" font-family="'Liberation Sans', Arial, sans-serif" fill="#111">t<tspan font-size="6.5" dy="1.8">2</tspan></text>
<text x="206" y="649.1" font-size="8" letter-spacing="1.5" fill="#111" font-family="'Liberation Sans', Arial, sans-serif">10<tspan font-size="5" dx="0.2" dy="-4" letter-spacing="0">-5</tspan></text>
<text x="272.3" y="649.1" font-size="8" letter-spacing="1.5" fill="#111" font-family="'Liberation Sans', Arial, sans-serif">10<tspan font-size="5" dx="0.2" dy="-4" letter-spacing="0">-4</tspan></text>
<text x="338.6" y="649.1" font-size="8" letter-spacing="1.5" fill="#111" font-family="'Liberation Sans', Arial, sans-serif">10<tspan font-size="5" dx="0.2" dy="-4" letter-spacing="0">-3</tspan></text>
<text x="404.9" y="649.1" font-size="8" letter-spacing="1.5" fill="#111" font-family="'Liberation Sans', Arial, sans-serif">10<tspan font-size="5" dx="0.2" dy="-4" letter-spacing="0">-2</tspan></text>
<text x="471.2" y="649.1" font-size="8" letter-spacing="1.5" fill="#111" font-family="'Liberation Sans', Arial, sans-serif">10<tspan font-size="5" dx="0.2" dy="-4" letter-spacing="0">-1</tspan></text>
<text x="537.5" y="649.1" font-size="8" letter-spacing="1.5" fill="#111" font-family="'Liberation Sans', Arial, sans-serif">10<tspan font-size="5" dx="0.2" dy="-4" letter-spacing="0">0</tspan></text>
<text x="603.8" y="649.1" font-size="8" letter-spacing="1.5" fill="#111" font-family="'Liberation Sans', Arial, sans-serif">10<tspan font-size="5" dx="0.2" dy="-4" letter-spacing="0">1</tspan></text>
<text x="193" y="485.2" font-size="8" letter-spacing="1.5" fill="#111" font-family="'Liberation Sans', Arial, sans-serif">10<tspan font-size="5" dx="0.2" dy="-4.5" letter-spacing="0">0</tspan></text>
<text x="191.3" y="552.1" font-size="8" letter-spacing="1.5" fill="#111" font-family="'Liberation Sans', Arial, sans-serif">10<tspan font-size="5" dx="0.2" dy="-4.5" letter-spacing="0">-1</tspan></text>
<text x="191.3" y="618.8" font-size="8" letter-spacing="1.5" fill="#111" font-family="'Liberation Sans', Arial, sans-serif">10<tspan font-size="5" dx="0.2" dy="-4.5" letter-spacing="0">-2</tspan></text>
<text transform="translate(158.8 600.2) rotate(-90)" font-size="16.2" font-family="'Liberation Serif', 'Noto Serif CJK SC', serif" fill="#111" fill-opacity="0.9">Z</text>
<text transform="translate(159.7 588.4) rotate(-90)" font-size="8.2" font-family="'Liberation Serif', 'Noto Serif CJK SC', serif" fill="#111">θ</text>
<text transform="translate(160.2 581.6) rotate(-90)" font-size="9.2" font-family="'Liberation Serif', 'Noto Serif CJK SC', serif" fill="#111">JC</text>
<text transform="translate(159.4 570.8) rotate(-90)" font-size="17" font-family="'Liberation Serif', 'Noto Serif CJK SC', serif" fill="#111">(t)</text>
<text transform="translate(158.8 549.7) rotate(-90)" font-size="15.8" font-family="'Noto Serif CJK SC', serif" fill="#111" font-weight="300">热阻抗</text>
<text x="349.1" y="684.4" font-size="14.85" letter-spacing="0" text-anchor="start" fill="#111" font-family="'Liberation Sans', 'Noto Sans CJK SC', sans-serif" font-weight="300">t<tspan font-size="7" dy="0.3">1</tspan><tspan dy="-0.3"> 方波宽度(sec)</tspan></text>
<text x="260.2" y="726.2" font-size="19.5" letter-spacing="0" text-anchor="start" fill="#111" font-family="'Liberation Sans', 'Noto Sans CJK SC', sans-serif" font-weight="300">图11-2. 热阻抗变化曲线(TO-220F)</text>
</svg></body></html>
